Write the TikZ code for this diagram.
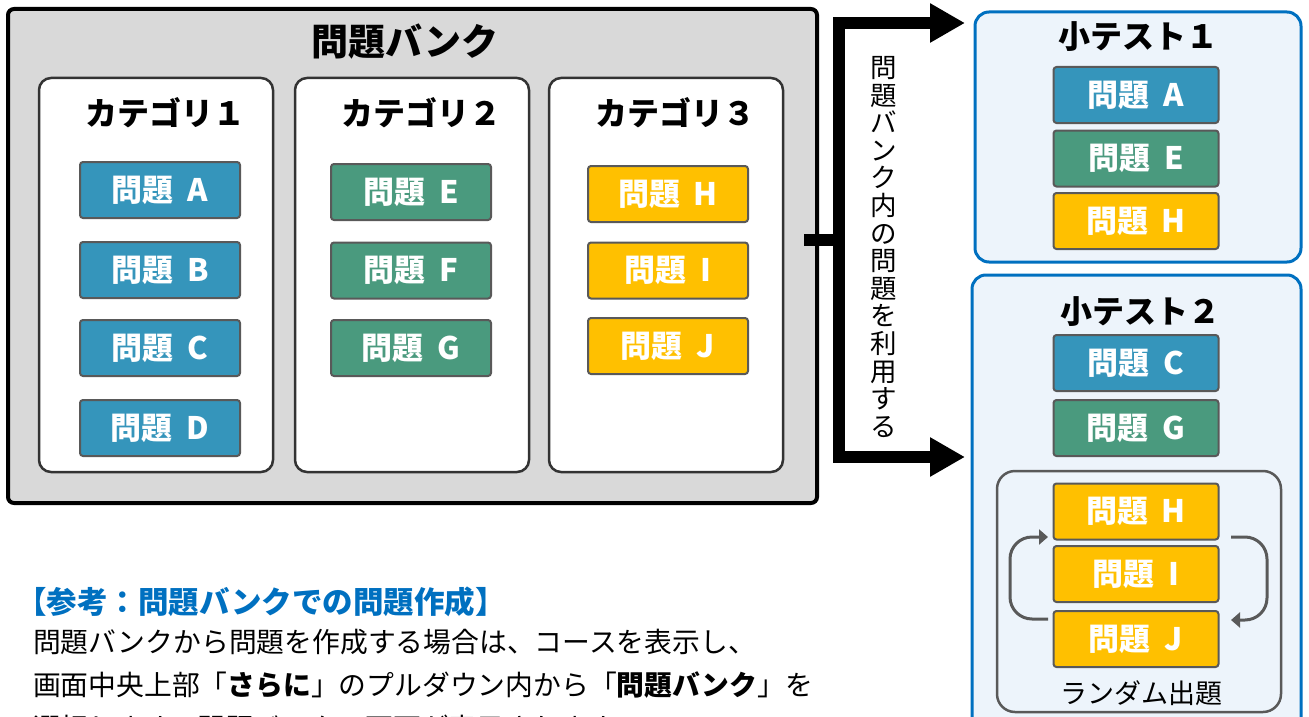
\documentclass[tikz,border=0pt]{standalone}
\usepackage{fontspec}
\setmainfont{Noto Sans CJK JP}
\usetikzlibrary{arrows.meta}
\definecolor{qblue}{HTML}{3595BB}
\definecolor{qgreen}{HTML}{4A9A7E}
\definecolor{qyellow}{HTML}{FFC000}
\definecolor{qborder}{HTML}{595959}
\definecolor{bankfill}{HTML}{D9D9D9}
\definecolor{testblue}{HTML}{0070C0}
\definecolor{testfill}{HTML}{EDF4FB}
\begin{document}
\begin{tikzpicture}[x=1pt,y=-1pt,
  q/.style={draw=qborder, line width=2pt, rounded corners=3pt, minimum width=160pt, minimum height=56pt, inner sep=0pt, font=\fontsize{31}{33}\bfseries\selectfont, text=white},
  qb/.style={q, fill=qblue}, qg/.style={q, fill=qgreen}, qy/.style={q, fill=qyellow},
  tq/.style={minimum width=165pt},
  bankbox/.style={draw=black, line width=4pt, fill=bankfill, rounded corners=6pt, inner sep=0pt},
  catbox/.style={draw=black!80, line width=2.5pt, fill=white, rounded corners=12pt, inner sep=0pt, minimum width=234pt, minimum height=394pt},
  testbox/.style={draw=testblue, line width=3pt, fill=testfill, rounded corners=14pt, inner sep=0pt},
  randbox/.style={draw=qborder, line width=2.5pt, fill=testfill, rounded corners=18pt, inner sep=0pt},
  bigtitle/.style={font=\fontsize{37}{40}\bfseries\selectfont, inner sep=0pt},
  cattitle/.style={font=\fontsize{32}{34}\bfseries\selectfont, inner sep=0pt},
  bigline/.style={line width=12pt, draw=black},
  cyc/.style={draw=qborder, line width=3pt, rounded corners=22pt, -{Triangle[length=9pt,width=15pt]}},
  body/.style={font=\fontsize{27.8}{30}\selectfont, inner sep=0pt, anchor=west},
  ]
\useasboundingbox (0,0) rectangle (1309,717);
\clip (0,0) rectangle (1309,717);

% question bank
\node[bankbox, minimum width=809pt, minimum height=494pt] (bank) at (412.5,256) {};
\node[bigtitle] (banktitle) at (405,42) {問題バンク};

\node[catbox] (cat1) at (156,275) {};
\node[catbox] (cat2) at (412,275) {};
\node[catbox] (cat3) at (666,275) {};
\node[cattitle] (cat1t) at (165,113) {カテゴリ１};
\node[cattitle] (cat2t) at (421,113) {カテゴリ２};
\node[cattitle] (cat3t) at (675,113) {カテゴリ３};

\node[qb] (qA) at (160,190) {問題\hspace{0.45em}A};
\node[qb] (qB) at (160,270) {問題\hspace{0.45em}B};
\node[qb] (qC) at (160,348) {問題\hspace{0.45em}C};
\node[qb] (qD) at (160,428) {問題\hspace{0.45em}D};

\node[qg] (qE) at (411,192) {問題\hspace{0.45em}E};
\node[qg] (qF) at (411,270.5) {問題\hspace{0.45em}F};
\node[qg] (qG) at (411,348) {問題\hspace{0.45em}G};

\node[qy] (qH) at (668,194) {問題\hspace{0.45em}H};
\node[qy] (qI) at (668,270.5) {問題\hspace{0.45em}I};
\node[qy] (qJ) at (668,346) {問題\hspace{0.45em}J};

% arrows
\coordinate (stub) at (804,240);
\coordinate (stubend) at (845,240);
\coordinate (topc) at (839,23);
\coordinate (botc) at (839,457);
\coordinate (tip1) at (965,23);
\coordinate (tip2) at (965,457);
\draw[bigline, line join=miter, {Triangle[length=35pt,width=37pt]}-{Triangle[length=35pt,width=37pt]}] (tip1) -- (topc) -- (botc) -- (tip2);
\draw[bigline] (stub) -- (stubend);
\node[font=\fontsize{26.5}{27.6}\selectfont, align=center, inner sep=0pt] (vtext) at (884,247)
  {問\\題\\バ\\ン\\ク\\内\\の\\問\\題\\を\\利\\用\\す\\る};

% test 1
\node[testbox, minimum width=326pt, minimum height=250pt] (test1) at (1138,137) {};
\node[cattitle] (test1t) at (1138,37) {小テスト１};
\node[qb,tq] (t1A) at (1136,95) {問題\hspace{0.45em}A};
\node[qg,tq] (t1E) at (1136,158.5) {問題\hspace{0.45em}E};
\node[qy,tq] (t1H) at (1136,221) {問題\hspace{0.45em}H};

% test 2
\node[testbox, minimum width=329pt, minimum height=465pt] (test2) at (1136.5,507.5) {};
\node[cattitle] (test2t) at (1140,312) {小テスト２};
\node[qb,tq] (t2C) at (1136,363) {問題\hspace{0.45em}C};
\node[qg,tq] (t2G) at (1136,428) {問題\hspace{0.45em}G};
\node[randbox, minimum width=284pt, minimum height=241pt] (rand) at (1139,591.5) {};
\node[qy,tq] (t2H) at (1136,511.5) {問題\hspace{0.45em}H};
\node[qy,tq] (t2I) at (1136,574) {問題\hspace{0.45em}I};
\node[qy,tq] (t2J) at (1136,639) {問題\hspace{0.45em}J};
\node[font=\fontsize{27}{29}\selectfont, inner sep=0pt] (randt) at (1141,693) {ランダム出題};

\coordinate (cl1) at (1048,619);
\coordinate (cl2) at (1010,619);
\coordinate (cl3) at (1010,537);
\coordinate (cl4) at (1048,537);
\draw[cyc] (cl1) -- (cl2) -- (cl3) -- (cl4);
\coordinate (cr1) at (1231,537);
\coordinate (cr2) at (1267,537);
\coordinate (cr3) at (1267,620);
\coordinate (cr4) at (1231,620);
\draw[cyc] (cr1) -- (cr2) -- (cr3) -- (cr4);

% notes
\node[body, font=\fontsize{30.5}{32}\bfseries\selectfont, text=testblue] (ref) at (16,602) {【参考：問題バンクでの問題作成】};
\node[body] (l1) at (33,642) {問題バンクから問題を作成する場合は、コースを表示し、};
\node[body] (l2) at (33,685) {画面中央上部「\textbf{さらに}」のプルダウン内から「\textbf{問題バンク}」を};
\node[body] (l3) at (33,728) {選択します。問題バンクの画面が表示されますので、};
\end{tikzpicture}
\end{document}
